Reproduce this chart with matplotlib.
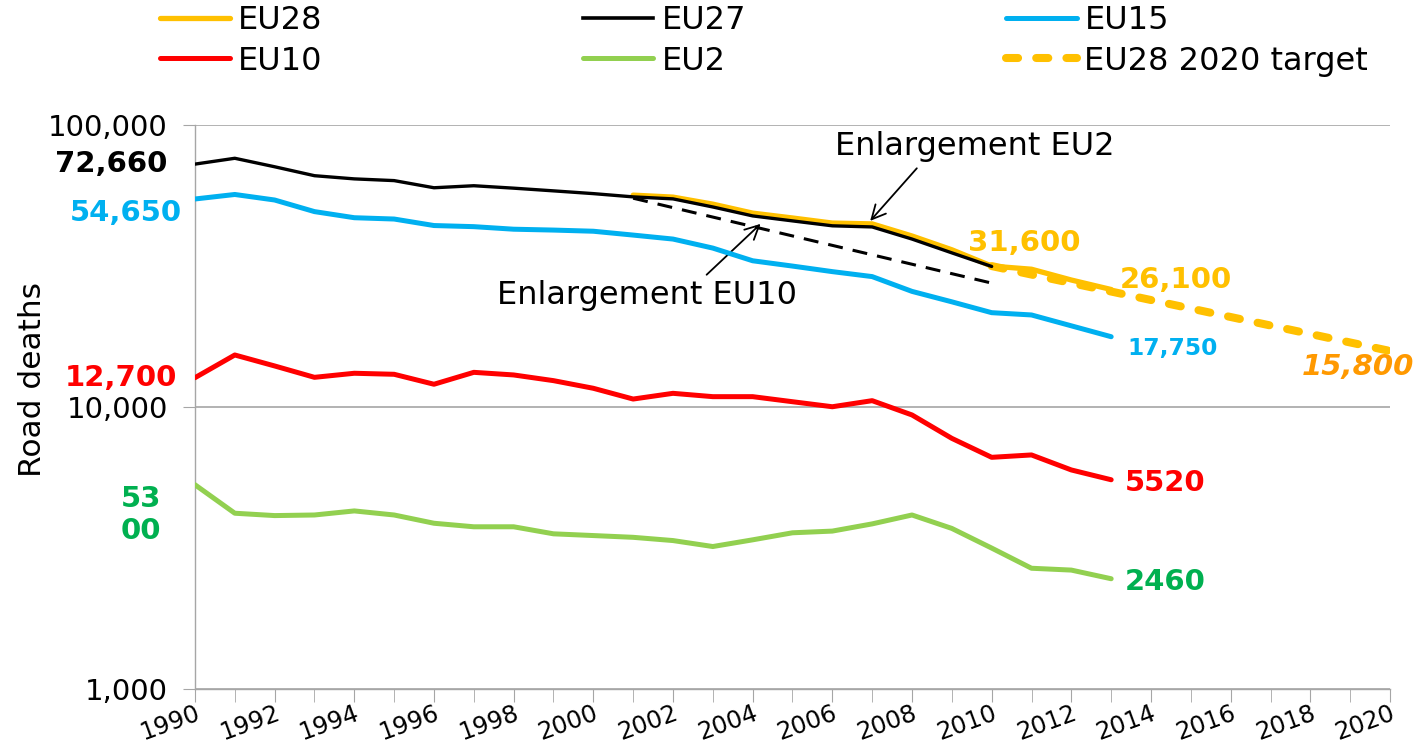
import matplotlib
matplotlib.use('Agg')
import matplotlib.pyplot as plt
from matplotlib.lines import Line2D
from matplotlib.ticker import FuncFormatter, NullLocator

# Road deaths per group
years = list(range(1990, 2014))
eu27_years = list(range(1990, 2011))
eu28_years = list(range(2001, 2014))

eu27 = [72660, 76200, 71100, 66100, 64400, 63500, 59900, 60900, 59700, 58400, 57100,
        55600, 54700, 51200, 47600, 45700, 43900, 43500, 39400, 35200, 31500]
eu28 = [56400, 55500, 52400, 48700, 46800, 44900, 44600, 40400, 36100, 31600,
        30800, 28200, 26100]
eu15 = [54650, 56700, 54200, 49300, 46900, 46400, 44000, 43600, 42700, 42400, 42000,
        40700, 39400, 36600, 33000, 31600, 30200, 29000, 25700, 23600, 21600, 21200,
        19400, 17750]
eu10 = [12700, 15290, 13980, 12740, 13170, 13060, 12040, 13270, 12990, 12400, 11650,
        10670, 11180, 10880, 10880, 10440, 10020, 10530, 9370, 7740, 6630, 6760,
        5980, 5520]
eu2 = [5300, 4200, 4120, 4140, 4280, 4140, 3870, 3760, 3760, 3550, 3500, 3450, 3360,
       3200, 3380, 3580, 3630, 3850, 4140, 3710, 3160, 2680, 2640, 2460]

target_years = [2010, 2020]
target = [31600, 15800]
trend_years = [2001, 2010]
trend = [55000, 27500]

C_EU28 = '#FFC000'
C_EU15 = '#00B0F0'
C_EU10 = '#FF0000'
C_EU2 = '#92D050'
C_EU2_TXT = '#00B050'
C_TARGET_TXT = '#FF9900'
GRID = '#A6A6A6'

fig = plt.figure(figsize=(14.21, 7.48), dpi=100)
ax = fig.add_axes([0.1372, 0.0789, 0.8410, 0.7540])

# lines
ax.plot(trend_years, trend, color='black', lw=2.2, dashes=(4.9, 3.3), zorder=3)
l28, = ax.plot(eu28_years, eu28, color=C_EU28, lw=3.8, solid_capstyle='round', zorder=4)
l27, = ax.plot(eu27_years, eu27, color='black', lw=2.4, solid_capstyle='round', zorder=5)
l15, = ax.plot(years, eu15, color=C_EU15, lw=3.6, solid_capstyle='round', zorder=4)
l10, = ax.plot(years, eu10, color=C_EU10, lw=3.6, solid_capstyle='round', zorder=4)
l2, = ax.plot(years, eu2, color=C_EU2, lw=3.6, solid_capstyle='round', zorder=4)
lt, = ax.plot(target_years, target, color=C_EU28, lw=5.8, dashes=(1.5, 2.25),
              dash_capstyle='round', zorder=4)

ax.set_yscale('log')
ax.set_xlim(1990, 2020)
ax.set_ylim(1000, 100000)
ax.set_yticks([1000, 10000, 100000])
ax.yaxis.set_minor_locator(NullLocator())
ax.yaxis.set_major_formatter(FuncFormatter(lambda v, p: f'{int(v):,}'))
ax.set_xticks(range(1990, 2021, 2))
ax.set_xticks(range(1990, 2021), minor=True)
ax.grid(axis='y', color=GRID, lw=1.2)
ax.set_axisbelow(True)

for s in ['top', 'right']:
    ax.spines[s].set_visible(False)
for s in ['left', 'bottom']:
    ax.spines[s].set_color(GRID)
    ax.spines[s].set_linewidth(1.0)

ax.tick_params(axis='y', which='both', length=9, color=GRID, labelsize=21, pad=10.5)
ax.tick_params(axis='x', which='both', length=9, color=GRID, labelsize=17.5, pad=0)
for lab in ax.get_xticklabels():
    lab.set_rotation(20)
    lab.set_ha('right')
    lab.set_rotation_mode('anchor')

ax.set_ylabel('Road deaths', fontsize=22.5)
ax.yaxis.set_label_coords(-0.124, 0.548)

# value labels
def label(x, y, txt, color, dx, dy, ha='left', size=21, style='normal'):
    ax.annotate(txt, xy=(x, y), xytext=(dx, dy), textcoords='offset pixels',
                ha=ha, va='center', color=color, fontsize=size,
                fontweight='bold', fontstyle=style, annotation_clip=False)

label(1990, eu27[0], '72,660', 'black', -28, 0, ha='right')
label(1990, eu15[0], '54,650', C_EU15, -13, -14, ha='right')
label(1990, eu10[0], '12,700', C_EU10, -18, 0, ha='right')
label(1990, eu2[0], '53\n00', C_EU2_TXT, -54, -30, ha='center')
label(2010, eu28[9], '31,600', C_EU28, -24, 23)
label(2013, eu28[-1], '26,100', C_EU28, 9, 9)
label(2013, eu15[-1], '17,750', C_EU15, 16, -12, size=16.8)
label(2020, target[-1], '15,800', C_TARGET_TXT, -88, -16, style='italic')
label(2013, eu10[-1], '5520', C_EU10, 14, -3)
label(2013, eu2[-1], '2460', C_EU2_TXT, 14, -3)

# enlargement arrows
arrow = dict(arrowstyle='->', color='black', lw=1.3, mutation_scale=25, shrinkA=3, shrinkB=0)
ax.annotate('Enlargement EU2', xy=(2006.95, 45700), xytext=(105, 74),
            textcoords='offset pixels', ha='center', va='center', fontsize=23,
            arrowprops=dict(arrow, relpos=(0.31, 0.0)))
ax.annotate('Enlargement EU10', xy=(2004.2, 44600), xytext=(-114, -72),
            textcoords='offset pixels', ha='center', va='center', fontsize=23,
            arrowprops=dict(arrow, relpos=(0.68, 1.0)))

# legend (filled column-wise)
h27 = Line2D([], [], color='black', lw=2.6)
handles = [l28, l10, h27, l2, l15, lt]
labels = ['EU28', 'EU10', 'EU27', 'EU2', 'EU15', 'EU28 2020 target']
fig.legend(handles, labels, ncol=3, loc='upper left', bbox_to_anchor=(0.1126, 0.9933),
           frameon=False, fontsize=23, handlelength=2.2, handletextpad=0.25,
           columnspacing=8.15, labelspacing=0.3, borderpad=0, borderaxespad=0)

fig.savefig('out.png', dpi=100)
